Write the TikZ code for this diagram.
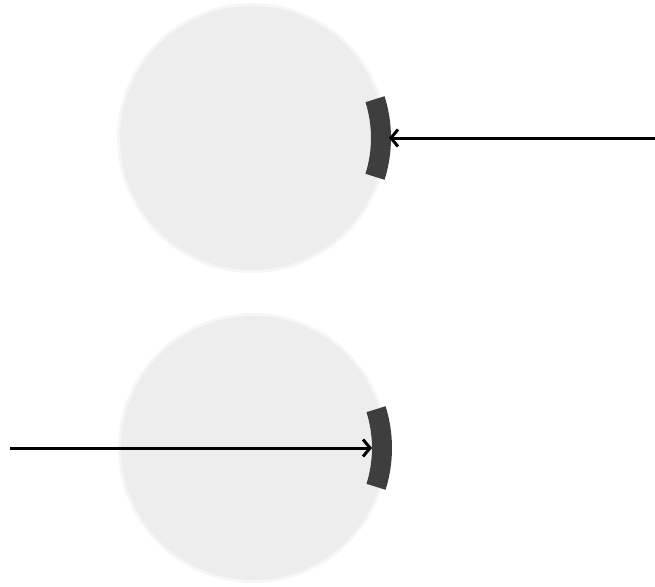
\documentclass[tikz,border=0pt]{standalone}
\usetikzlibrary{arrows.meta}
\definecolor{discgray}{RGB}{237,237,237}
\definecolor{bandgray}{RGB}{62,62,62}
\tikzset{
  disc/.style={circle, fill=discgray, draw=none, minimum size=264pt, inner sep=0pt},
  discedge/.style={circle, fill=discgray, fill opacity=0.5, draw=none, minimum size=270pt, inner sep=0pt},
  band/.style={fill=bandgray, draw=none},
  ray/.style={line width=3pt, -{Straight Barb[length=7pt,width=17pt,line width=3pt]}}
}
\begin{document}
\begin{tikzpicture}[x=1pt,y=-1pt]
\useasboundingbox (0,0) rectangle (655,586);
% top disc
\node[discedge] at (252,138) {};
\node[disc] (d1) at (252,138) {};
\fill[band] ([shift={(-17.5:119pt)}]252pt,-138pt) arc[start angle=-17.5,end angle=17.5,radius=119pt]
  -- ([shift={(17.5:139pt)}]252pt,-138pt) arc[start angle=17.5,end angle=-17.5,radius=139pt] -- cycle;
\coordinate (t1) at (389,138);
\coordinate (s1) at (655,138);
\draw[ray] (s1) -- (t1);
% bottom disc
\node[discedge] at (253,448) {};
\node[disc] (d2) at (253,448) {};
\fill[band] ([shift={(-17.5:119pt)}]253pt,-448pt) arc[start angle=-17.5,end angle=17.5,radius=119pt]
  -- ([shift={(17.5:139pt)}]253pt,-448pt) arc[start angle=17.5,end angle=-17.5,radius=139pt] -- cycle;
\coordinate (s2) at (10,448);
\coordinate (t2) at (372,448);
\draw[ray] (s2) -- (t2);
\end{tikzpicture}
\end{document}
